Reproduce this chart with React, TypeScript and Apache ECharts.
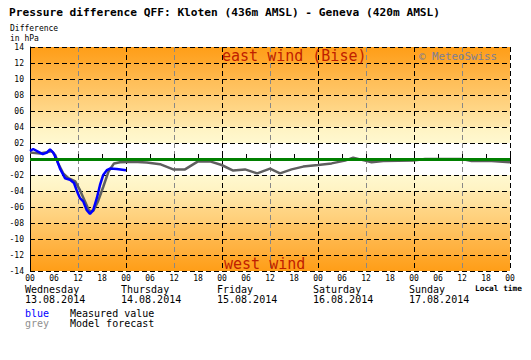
import React, { useEffect, useRef } from 'react';
import * as echarts from 'echarts';

const chartTitle = 'Pressure difference QFF: Kloten (436m AMSL) - Geneva (420m AMSL)';
const dayNames = ['Wednesday', 'Thursday', 'Friday', 'Saturday', 'Sunday'];
const dayDates = ['13.08.2014', '14.08.2014', '15.08.2014', '16.08.2014', '17.08.2014'];
const dayStartHours = [0, 24, 48, 72, 96];

const measuredHours = [0, 0.8, 2.1, 3.2, 4.2, 5, 5.8, 6.7, 7.5, 8.75, 10, 11, 11.8, 12.5, 13.3, 14.2, 15, 15.8, 16.7, 17.5, 18.3, 19.2, 20, 21.7, 24];
const measuredValues = [1.0, 1.25, 0.9, 0.6, 0.8, 1.2, 0.8, -0.1, -1.2, -2.4, -2.6, -3.0, -4.1, -4.9, -5.3, -6.4, -6.85, -6.4, -4.9, -3.25, -2.0, -1.4, -1.2, -1.25, -1.4];

const forecastHours = [0, 2.5, 4.2, 5.4, 6.3, 7, 8.3, 9.6, 11.3, 12.5, 13.75, 14.8, 15.8, 17, 18.3, 19.6, 21, 22.5, 25.8, 29.2, 32.5, 35.8, 38.75, 42, 45, 47.9, 50.8, 53.75, 56.8, 60, 62.5, 65.4, 68.3, 72, 75.4, 78.75, 80.8, 83.75, 85.4, 88.3, 95.8, 98.75, 108, 110.4, 115.4, 120];
const forecastValues = [0.8, 0.7, 0.85, 1.0, 0.5, -0.5, -1.8, -2.4, -2.8, -3.9, -5.3, -6.5, -6.5, -5.3, -3.5, -1.6, -0.55, -0.4, -0.35, -0.45, -0.65, -1.3, -1.3, -0.3, -0.3, -0.75, -1.45, -1.3, -1.8, -1.2, -1.8, -1.3, -0.95, -0.75, -0.55, -0.2, 0.15, -0.2, -0.4, -0.25, -0.2, 0.0, 0.0, -0.25, -0.25, -0.4];

const yMin = -14;
const yMax = 14;
const yStep = 2;
const xMax = 120;
const tickHours = 6;
const gridHours = 12;

const pad2 = (v: number) => (v < 0 ? '-' : '') + String(Math.abs(Math.round(v))).padStart(2, '0');

// band colours, from the outermost band to the innermost: [dark edge, light edge]
const bandShades: [string, string][] = [
  ['#FF9E18', '#FFA82C'],
  ['#FFAD38', '#FFB74A'],
  ['#FFBD56', '#FFC768'],
  ['#FFCD76', '#FFD788'],
  ['#FFDF9A', '#FFE9AE'],
  ['#FFF3C2', '#FFF8D0'],
  ['#FFFFFF', '#FFFFFF'],
];

const MONO = '"DejaVu Sans Mono", monospace';

export default function App() {
  const ref = useRef<HTMLDivElement>(null);
  useEffect(() => {
    if (!ref.current) return;
    const chart = echarts.init(ref.current, undefined, { renderer: 'svg' });

    const grad = (topColor: string, bottomColor: string) =>
      new echarts.graphic.LinearGradient(0, 0, 0, 1, [
        { offset: 0, color: topColor },
        { offset: 1, color: bottomColor },
      ]);
    // from bottom (-14) upwards
    const lower = bandShades.map(([dark, light]) => grad(light, dark));
    const upper = bandShades.map(([dark, light]) => grad(dark, light)).reverse();
    const areaColors = [...lower, ...upper];

    const measured = measuredHours.map((h, i) => [h, measuredValues[i]]);
    const forecast = forecastHours.map((h, i) => [h, forecastValues[i]]);

    chart.setOption({
      animation: false,
      backgroundColor: '#fff',
      grid: { left: 30, right: 21, top: 47, bottom: 89 },
      xAxis: [
        {
          type: 'value',
          min: 0,
          max: xMax,
          interval: tickHours,
          position: 'bottom',
          axisLine: { show: false },
          axisTick: { show: true, inside: true, length: 5, lineStyle: { color: '#000', width: 1 } },
          axisLabel: {
            formatter: (v: number) => pad2(v % 24),
            fontFamily: MONO,
            fontSize: 8,
            color: '#000',
            margin: 3,
          },
          splitLine: { show: false },
        },
        {
          type: 'value',
          min: 0,
          max: xMax,
          interval: gridHours,
          position: 'bottom',
          axisLine: { show: false },
          axisTick: { show: false },
          axisLabel: { show: false },
          splitLine: {
            show: true,
            lineStyle: { color: ['#000000', '#888888'], type: [5, 3], width: 1 },
          },
        },
      ],
      yAxis: {
        type: 'value',
        min: yMin,
        max: yMax,
        interval: yStep,
        axisLine: { show: true, lineStyle: { color: '#000', width: 1 } },
        axisTick: { show: false },
        axisLabel: {
          formatter: (v: number) => pad2(v),
          fontFamily: MONO,
          fontSize: 8,
          color: '#000',
          margin: 6,
        },
        splitLine: { show: true, lineStyle: { color: '#000', type: [5, 3], width: 1 } },
        splitArea: { show: true, areaStyle: { color: areaColors } },
      },
      series: [
        {
          name: 'zero',
          type: 'line',
          data: [],
          z: 2,
          markLine: {
            silent: true,
            symbol: 'none',
            label: { show: false },
            lineStyle: { color: '#008000', width: 3, type: 'solid' },
            data: [{ yAxis: 0 }],
          },
        },
        {
          name: 'Model forecast',
          type: 'line',
          data: forecast,
          z: 3,
          showSymbol: false,
          symbol: 'none',
          lineStyle: { color: '#5f5f5f', width: 2.5 },
        },
        {
          name: 'Measured value',
          type: 'line',
          data: measured,
          z: 4,
          showSymbol: false,
          symbol: 'none',
          lineStyle: { color: '#0000FF', width: 2.5 },
        },
      ],
    });

    const dayGraphics: any[] = [];
    dayStartHours.forEach((h, i) => {
      const px = chart.convertToPixel({ xAxisIndex: 0 }, h) as number;
      dayGraphics.push({
        type: 'text',
        x: px - 5,
        y: 289,
        style: { text: dayNames[i], font: `10px ${MONO}`, fill: '#000', textVerticalAlign: 'middle' },
      });
      dayGraphics.push({
        type: 'text',
        x: px - 5,
        y: 299,
        style: { text: dayDates[i], font: `10px ${MONO}`, fill: '#000', textVerticalAlign: 'middle' },
      });
    });

    const txt = (text: string, x: number, y: number, font: string, fill: string) => ({
      type: 'text',
      x,
      y,
      z: 10,
      style: { text, font, fill, textVerticalAlign: 'middle' },
    });

    chart.setOption({
      graphic: [
        txt(chartTitle, 9, 12, `bold 11.2px ${MONO}`, '#000'),
        txt('Difference', 10, 28, `8px ${MONO}`, '#000'),
        txt('in hPa', 10, 38, `8px ${MONO}`, '#000'),
        txt('east wind (Bise)', 222, 56, `15px ${MONO}`, '#C02000'),
        txt('west wind', 224, 264, `15px ${MONO}`, '#C02000'),
        txt('\u00A9 MeteoSwiss', 419, 56, `10.8px ${MONO}`, '#7E7E94'),
        txt('Local time', 475, 288.5, `bold 7.8px ${MONO}`, '#000'),
        txt('blue', 25, 313, `10px ${MONO}`, '#0000FF'),
        txt('Measured value', 70, 313, `10px ${MONO}`, '#000'),
        txt('grey', 25, 323, `10px ${MONO}`, '#909090'),
        txt('Model forecast', 70, 323, `10px ${MONO}`, '#000'),
        ...dayGraphics,
      ],
    });

    return () => chart.dispose();
  }, []);

  return (
    <div
      ref={ref}
      style={{ position: 'absolute', left: 0, top: 0, width: 531, height: 360 }}
    />
  );
}
